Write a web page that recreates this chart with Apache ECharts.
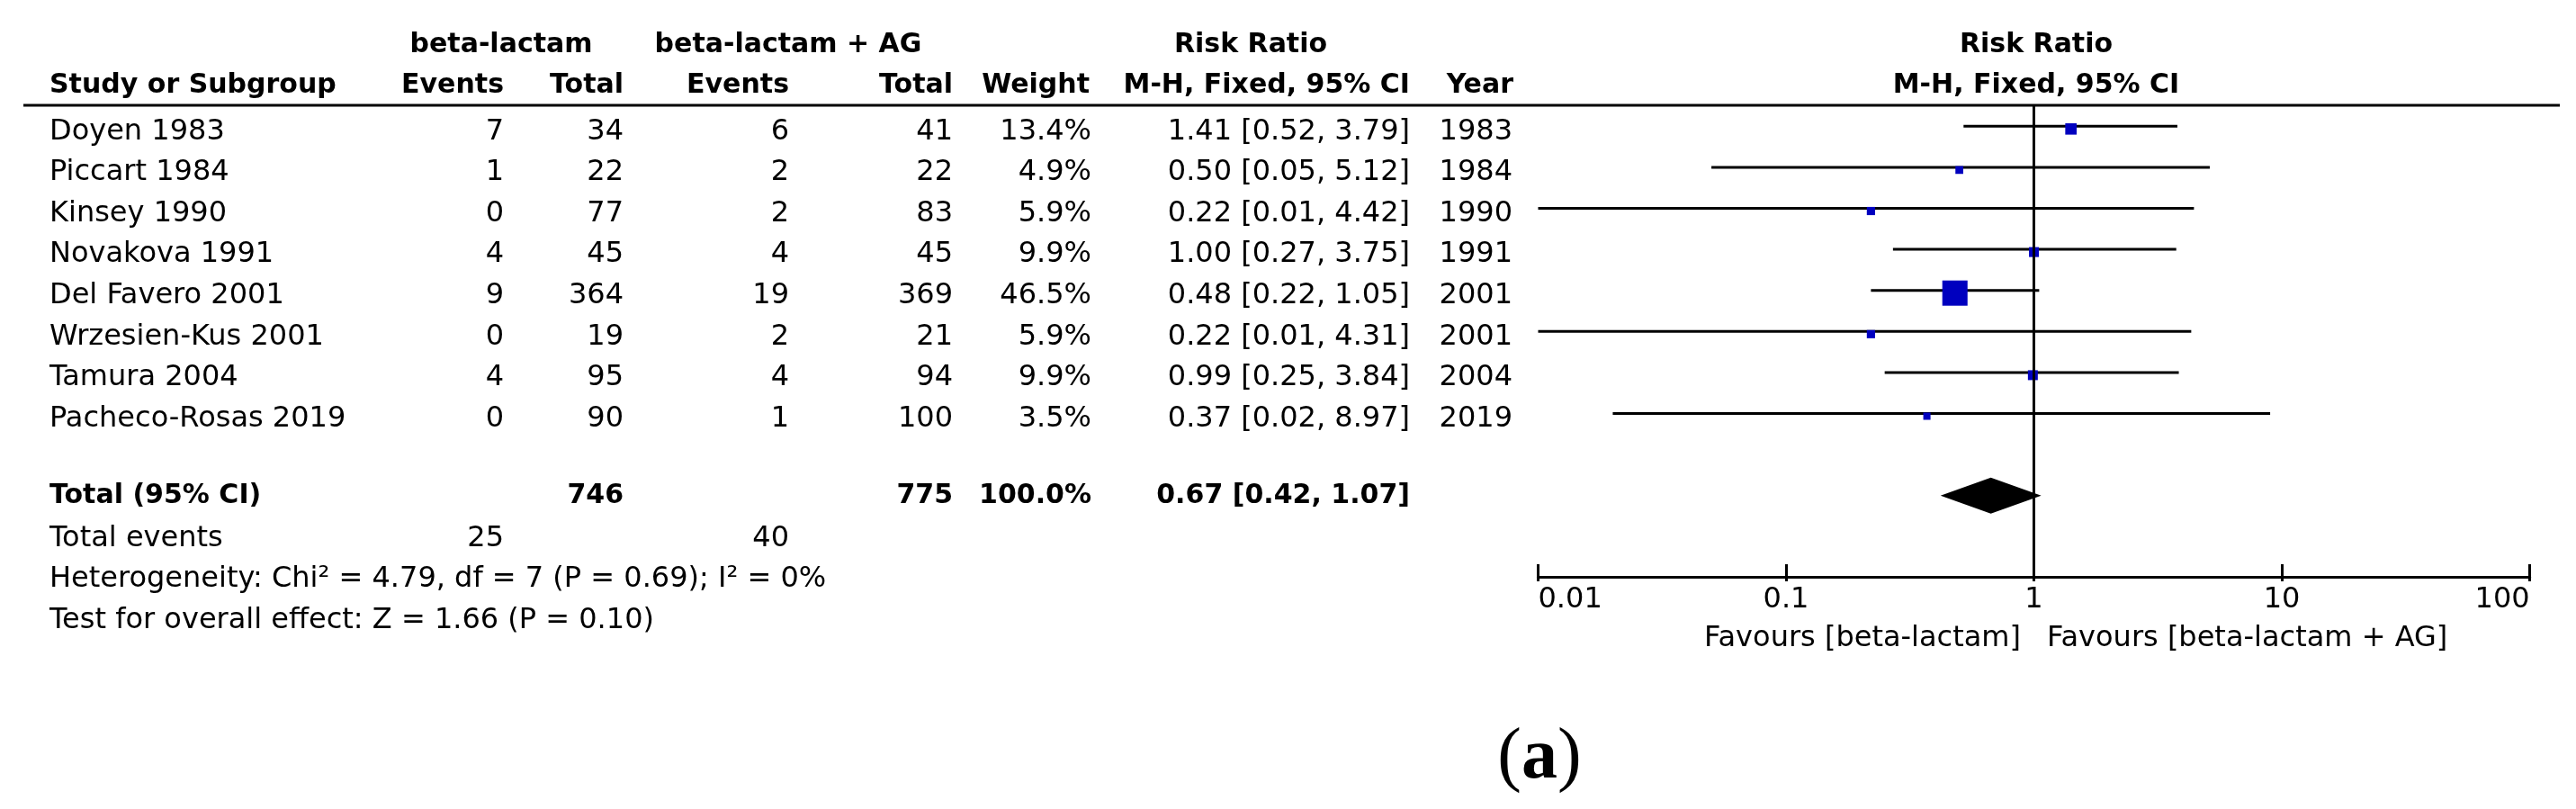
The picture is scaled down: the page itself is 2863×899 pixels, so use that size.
<!DOCTYPE html>
<html>
<head>
<meta charset="utf-8">
<script src="https://cdn.jsdelivr.net/npm/echarts@6/dist/echarts.min.js"></script>
<style>
html,body{margin:0;padding:0;background:#fff;}
#chart{width:2863px;height:899px;}
</style>
</head>
<body>
<div id="chart"></div>
<script>
// ---------------- data ----------------
const studies = ['Doyen 1983','Piccart 1984','Kinsey 1990','Novakova 1991','Del Favero 2001','Wrzesien-Kus 2001','Tamura 2004','Pacheco-Rosas 2019'];
const eventsBL = [7,1,0,4,9,0,4,0];
const totalBL = [34,22,77,45,364,19,95,90];
const eventsAG = [6,2,2,4,19,2,4,1];
const totalAG = [41,22,83,45,369,21,94,100];
const weights = [13.4,4.9,5.9,9.9,46.5,5.9,9.9,3.5];
const riskRatio = [1.41,0.50,0.22,1.00,0.48,0.22,0.99,0.37];
const ciLow = [0.52,0.05,0.01,0.27,0.22,0.01,0.25,0.02];
const ciHigh = [3.79,5.12,4.42,3.75,1.05,4.31,3.84,8.97];
const years = [1983,1984,1990,1991,2001,2001,2004,2019];
const pooled = [0.67,0.42,1.07];           // RR, lower, upper
const pooledTotals = [746,775];           // beta-lactam, beta-lactam + AG
const pooledWeight = [100.0];
const totalEvents = [25,40];
const heterogeneityText = 'Heterogeneity: Chi\u00B2 = 4.79, df = 7 (P = 0.69); I\u00B2 = 0%';
const overallText = 'Test for overall effect: Z = 1.66 (P = 0.10)';
const xTicks = [0.01,0.1,1,10,100];
const xTickLabels = ['0.01','0.1','1','10','100'];

// ---------------- layout ----------------
const FONT = '"DejaVu Sans", "Liberation Sans", sans-serif';
const REG = '32px ' + FONT;
const BOLD = 'bold 30px ' + FONT;
const TOP = 117, AXIS_Y = 641, H = 899, W = 2863;
const ROW0 = 140.3, PITCH = 45.6;
const yMin = (TOP - ROW0) / PITCH;
const yMax = (AXIS_Y - ROW0) / PITCH;
const TOTAL_ROW = 9;
const col = {label:55, evBL:560, totBL:693, evAG:877, totAG:1059, weight:1213, ci:1567, year:1681};
const BLUE = '#0000BF';

function fmt2(v){ return v.toFixed(2); }
function ciText(r,l,h){ return fmt2(r) + ' [' + fmt2(l) + ', ' + fmt2(h) + ']'; }
function squareSide(w){ return 6.4 + 0.465 * w; }
function tickLabel(v){ const k = xTicks.findIndex(t=>Math.abs(Math.log10(t)-Math.log10(v))<1e-6); return k>=0 ? xTickLabels[k] : ''; }

// table rows: [x, rowPosition, kind, index]
const tableRows = [];
studies.forEach((s,i)=>tableRows.push([0, i, 'study', i]));
tableRows.push([0, TOTAL_ROW, 'total', 0]);
tableRows.push([0, TOTAL_ROW + 1, 'events', 0]);
tableRows.push([0, TOTAL_ROW + 2, 'het', 0]);
tableRows.push([0, TOTAL_ROW + 3, 'overall', 0]);

function txt(x, y, text, font, align){
  return {type:'text', style:{x:x, y:y, text:text, font:font, fill:'#000', align:align, verticalAlign:'middle'}};
}

const chart = echarts.init(document.getElementById('chart'), null, {renderer:'canvas'});

const option = {
  backgroundColor:'#fff',
  animation:false,
  grid:[
    {left:1709.5, right:W-2811.6, top:TOP, bottom:H-AXIS_Y, containLabel:false},
    {left:0, right:0, top:TOP, bottom:H-AXIS_Y, containLabel:false}
  ],
  xAxis:[
    {type:'log', logBase:10, min:0.01, max:100, gridIndex:0, position:'bottom',
     axisLine:{show:true, onZero:false, lineStyle:{color:'#000', width:3}},
     axisTick:{show:true, inside:true, length:14, lineStyle:{color:'#000', width:3}},
     splitLine:{show:false},
     axisLabel:{show:true, margin:10, color:'#000', fontSize:32, fontFamily:FONT,
       alignMinLabel:'left', alignMaxLabel:'right', formatter:tickLabel}
    },
    {type:'value', min:0, max:W, gridIndex:1, show:false},
    {type:'log', logBase:10, min:0.01, max:100, gridIndex:0, position:'bottom',
     axisLine:{show:false, onZero:false},
     axisTick:{show:true, inside:false, length:5, lineStyle:{color:'#000', width:3}},
     splitLine:{show:false}, axisLabel:{show:false}}
  ],
  yAxis:[
    {type:'value', min:yMin, max:yMax, inverse:true, gridIndex:0, show:false},
    {type:'value', min:yMin, max:yMax, inverse:true, gridIndex:1, show:false}
  ],
  series:[
    // study CIs and squares
    {
      type:'custom', xAxisIndex:0, yAxisIndex:0, clip:false,
      data: studies.map((s,i)=>[i, riskRatio[i], ciLow[i], ciHigh[i], weights[i]]),
      encode:{x:[1,2,3], y:0},
      renderItem:function(params, api){
        const i = api.value(0);
        const p = api.coord([api.value(1), i]);
        const a = api.coord([api.value(2), i]);
        const b = api.coord([api.value(3), i]);
        const s = squareSide(api.value(4));
        return {type:'group', children:[
          {type:'line', shape:{x1:a[0], y1:a[1], x2:b[0], y2:b[1]}, style:{stroke:'#000', lineWidth:3}},
          {type:'rect', shape:{x:p[0]-s/2, y:p[1]+3-s/2, width:s, height:s}, style:{fill:BLUE}}
        ]};
      },
      markLine:{silent:true, symbol:['none','none'], label:{show:false},
        lineStyle:{color:'#000', width:3, type:'solid'}, data:[{xAxis:1}]},
      z:3
    },
    // pooled diamond
    {
      type:'custom', xAxisIndex:0, yAxisIndex:0, clip:false,
      data:[[TOTAL_ROW, pooled[0], pooled[1], pooled[2]]],
      encode:{x:[1,2,3], y:0},
      renderItem:function(params, api){
        const r = api.value(0);
        const c = api.coord([api.value(1), r]);
        const l = api.coord([api.value(2), r]);
        const h = api.coord([api.value(3), r]);
        const hh = 20;
        return {type:'polygon', shape:{points:[[l[0],c[1]],[c[0],c[1]-hh],[h[0],c[1]],[c[0],c[1]+hh]]}, style:{fill:'#000'}};
      },
      z:4
    },
    // table text
    {
      type:'custom', xAxisIndex:1, yAxisIndex:1, clip:false,
      data: tableRows,
      encode:{x:0, y:1},
      renderItem:function(params, api){
        const row = tableRows[params.dataIndex];
        const kind = row[2], i = row[3];
        const y = api.coord([0, row[1]])[1];
        const X = k => api.coord([col[k], row[1]])[0];
        const ch = [];
        if (kind === 'study'){
          const ty = y + 6;
          ch.push(txt(X('label'), ty, studies[i], REG, 'left'));
          ch.push(txt(X('evBL'), ty, String(eventsBL[i]), REG, 'right'));
          ch.push(txt(X('totBL'), ty, String(totalBL[i]), REG, 'right'));
          ch.push(txt(X('evAG'), ty, String(eventsAG[i]), REG, 'right'));
          ch.push(txt(X('totAG'), ty, String(totalAG[i]), REG, 'right'));
          ch.push(txt(X('weight'), ty, weights[i].toFixed(1) + '%', REG, 'right'));
          ch.push(txt(X('ci'), ty, ciText(riskRatio[i], ciLow[i], ciHigh[i]), REG, 'right'));
          ch.push(txt(X('year'), ty, String(years[i]), REG, 'right'));
        } else if (kind === 'total'){
          const ty = y + 1;
          ch.push(txt(X('label'), ty, 'Total (95% CI)', BOLD, 'left'));
          ch.push(txt(X('totBL'), ty, String(pooledTotals[0]), BOLD, 'right'));
          ch.push(txt(X('totAG'), ty, String(pooledTotals[1]), BOLD, 'right'));
          ch.push(txt(X('weight'), ty, pooledWeight[0].toFixed(1) + '%', BOLD, 'right'));
          ch.push(txt(X('ci'), ty, ciText(pooled[0], pooled[1], pooled[2]), BOLD, 'right'));
        } else if (kind === 'events'){
          const ty = y + 2;
          ch.push(txt(X('label'), ty, 'Total events', REG, 'left'));
          ch.push(txt(X('evBL'), ty, String(totalEvents[0]), REG, 'right'));
          ch.push(txt(X('evAG'), ty, String(totalEvents[1]), REG, 'right'));
        } else if (kind === 'het'){
          ch.push(txt(X('label'), y + 2, heterogeneityText, REG, 'left'));
        } else if (kind === 'overall'){
          ch.push(txt(X('label'), y + 2, overallText, REG, 'left'));
        }
        return {type:'group', children:ch};
      },
      z:5
    }
  ],
  graphic:[
    // header rule
    {type:'line', shape:{x1:26, y1:117, x2:2845, y2:117}, style:{stroke:'#000', lineWidth:3}, z:10},
    // header row 1
    {type:'text', style:{x:557, y:50, text:'beta-lactam', font:BOLD, fill:'#000', align:'center', verticalAlign:'middle'}},
    {type:'text', style:{x:876, y:50, text:'beta-lactam + AG', font:BOLD, fill:'#000', align:'center', verticalAlign:'middle'}},
    {type:'text', style:{x:1390, y:50, text:'Risk Ratio', font:BOLD, fill:'#000', align:'center', verticalAlign:'middle'}},
    {type:'text', style:{x:2263, y:50, text:'Risk Ratio', font:BOLD, fill:'#000', align:'center', verticalAlign:'middle'}},
    // header row 2
    {type:'text', style:{x:55, y:95, text:'Study or Subgroup', font:BOLD, fill:'#000', align:'left', verticalAlign:'middle'}},
    {type:'text', style:{x:560, y:95, text:'Events', font:BOLD, fill:'#000', align:'right', verticalAlign:'middle'}},
    {type:'text', style:{x:693, y:95, text:'Total', font:BOLD, fill:'#000', align:'right', verticalAlign:'middle'}},
    {type:'text', style:{x:877, y:95, text:'Events', font:BOLD, fill:'#000', align:'right', verticalAlign:'middle'}},
    {type:'text', style:{x:1059, y:95, text:'Total', font:BOLD, fill:'#000', align:'right', verticalAlign:'middle'}},
    {type:'text', style:{x:1211, y:95, text:'Weight', font:BOLD, fill:'#000', align:'right', verticalAlign:'middle'}},
    {type:'text', style:{x:1567, y:95, text:'M-H, Fixed, 95% CI', font:BOLD, fill:'#000', align:'right', verticalAlign:'middle'}},
    {type:'text', style:{x:1682, y:95, text:'Year', font:BOLD, fill:'#000', align:'right', verticalAlign:'middle'}},
    {type:'text', style:{x:2263, y:95, text:'M-H, Fixed, 95% CI', font:BOLD, fill:'#000', align:'center', verticalAlign:'middle'}},
    // favours
    {type:'text', style:{x:2246, y:710, text:'Favours [beta-lactam]', font:REG, fill:'#000', align:'right', verticalAlign:'middle'}},
    {type:'text', style:{x:2275, y:710, text:'Favours [beta-lactam + AG]', font:REG, fill:'#000', align:'left', verticalAlign:'middle'}},
    // panel label
    {type:'text', style:{x:1711, y:843, text:'{p|(}{a|a}{p|)}', fill:'#000', align:'center', verticalAlign:'middle',
      rich:{p:{font:'80px "Liberation Serif", "DejaVu Serif", serif', fill:'#000'},
            a:{font:'bold 80px "Liberation Serif", "DejaVu Serif", serif', fill:'#000'}}}}
  ]
};
chart.setOption(option);
</script>
</body>
</html>
